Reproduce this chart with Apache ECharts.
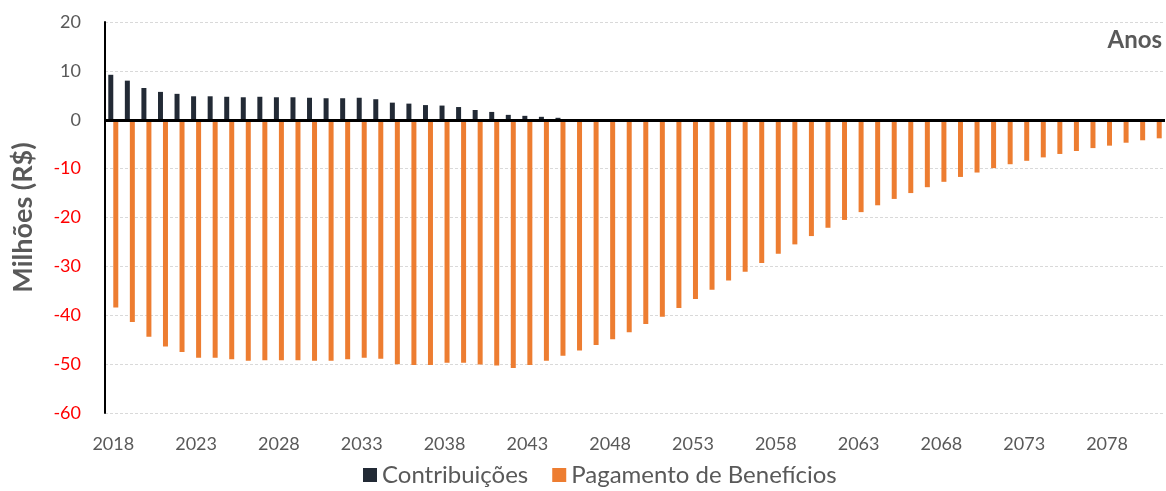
<!DOCTYPE html>
<html>
<head>
<meta charset="utf-8">
<script src="https://cdn.jsdelivr.net/npm/echarts@6/dist/echarts.min.js"></script>
<style>
html,body{margin:0;padding:0;background:#fff;}
#chart{width:1166px;height:491px;}
</style>
</head>
<body>
<div id="chart"></div>
<script>
const years = ['2018','2019','2020','2021','2022','2023','2024','2025','2026','2027',
  '2028','2029','2030','2031','2032','2033','2034','2035','2036','2037',
  '2038','2039','2040','2041','2042','2043','2044','2045','2046','2047',
  '2048','2049','2050','2051','2052','2053','2054','2055','2056','2057',
  '2058','2059','2060','2061','2062','2063','2064','2065','2066','2067',
  '2068','2069','2070','2071','2072','2073','2074','2075','2076','2077',
  '2078','2079','2080','2081'];

const contribuicoes = [9.2, 8.0, 6.5, 5.7, 5.3, 4.8, 4.8, 4.7, 4.6, 4.7,
  4.6, 4.6, 4.5, 4.4, 4.4, 4.5, 4.2, 3.5, 3.3, 3.0,
  2.9, 2.6, 2.0, 1.6, 1.0, 0.8, 0.6, 0.4];

const pagamentoBeneficios = [-38.4, -41.4, -44.4, -46.4, -47.5, -48.7, -48.7, -49.0, -49.3, -49.2,
  -49.2, -49.2, -49.3, -49.3, -49.0, -48.7, -48.9, -50.0, -50.2, -50.2,
  -49.7, -49.7, -50.1, -50.3, -50.8, -50.2, -49.3, -48.3, -47.2, -46.1,
  -44.9, -43.5, -41.8, -40.3, -38.5, -36.7, -34.8, -32.9, -31.1, -29.3,
  -27.4, -25.5, -23.8, -22.1, -20.5, -18.9, -17.5, -16.2, -15.0, -13.8,
  -12.7, -11.7, -10.8, -9.9, -9.1, -8.4, -7.7, -7.0, -6.4, -5.8,
  -5.3, -4.7, -4.2, -3.8];

const yMin = -60, yMax = 20, yStep = 10;
const seriesNames = ['Contribuições', 'Pagamento de Benefícios'];

const grey = '#595959';
const chart = echarts.init(document.getElementById('chart'), null, {renderer: 'canvas'});
chart.setOption({
  animation: false,
  textStyle: {fontFamily: 'Lato'},
  title: {
    text: 'Anos', right: 0, top: 28, padding: [0, 4, 0, 0],
    textStyle: {fontFamily: 'Lato', fontSize: 24, fontWeight: 'bold', color: grey}
  },
  legend: {
    bottom: -1, left: 358,
    itemWidth: 14, itemHeight: 14, itemGap: 24,
    icon: 'rect',
    textStyle: {fontFamily: 'Lato', fontSize: 24, color: grey},
    data: seriesNames
  },
  grid: {left: 105, right: 1, top: 22, bottom: 78, containLabel: false},
  xAxis: {
    type: 'category', data: years,
    axisLine: {show: false, onZero: false},
    axisTick: {show: false},
    axisLabel: {interval: 4, margin: 22, fontSize: 18, color: grey, fontFamily: 'Lato'},
    splitLine: {show: false}
  },
  yAxis: {
    type: 'value', min: yMin, max: yMax, interval: yStep,
    name: 'Milhões (R$)', nameLocation: 'middle', nameGap: 68,
    nameTextStyle: {fontFamily: 'Lato', fontSize: 27, fontWeight: 'bold', color: grey},
    axisLine: {show: true, lineStyle: {color: '#000', width: 2}},
    axisTick: {show: false},
    axisLabel: {
      margin: 24, fontSize: 18, fontFamily: 'Lato',
      color: function (v) { return Number(v) < 0 ? '#FF0000' : grey; }
    },
    splitLine: {show: true, lineStyle: {color: '#d9d9d9', type: [3, 2], width: 1}}
  },
  series: [
    {
      name: seriesNames[0], type: 'bar', data: contribuicoes,
      barWidth: 5, barGap: '0%',
      itemStyle: {color: '#222a35'}
    },
    {
      name: seriesNames[1], type: 'bar', data: pagamentoBeneficios,
      barWidth: 5, barGap: '0%',
      itemStyle: {color: '#ed7d31'},
      markLine: {
        silent: true, symbol: 'none', label: {show: false},
        lineStyle: {color: '#000', width: 3, type: 'solid'},
        data: [{yAxis: 0}]
      }
    }
  ]
});
</script>
</body>
</html>
